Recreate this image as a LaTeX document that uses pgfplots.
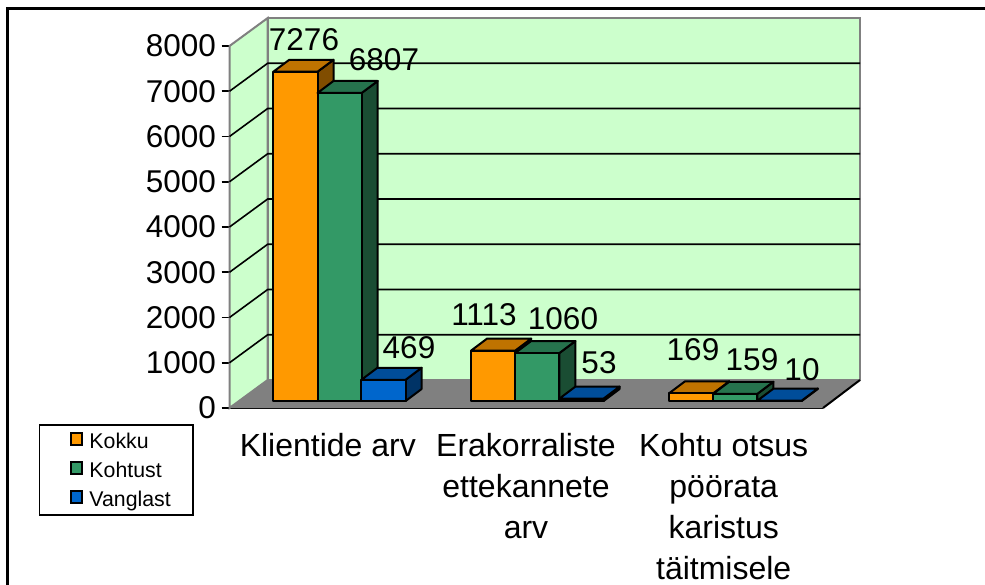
\documentclass[border=0pt]{standalone}
\usepackage{fontspec}
\setmainfont{Liberation Sans}
\usepackage{pgfplots}
\pgfplotsset{compat=1.18}
\definecolor{wallc}{HTML}{CCFFCC}
\definecolor{floorc}{HTML}{808080}
\definecolor{orfront}{HTML}{FF9900}
\definecolor{ortop}{HTML}{BF7300}
\definecolor{orside}{HTML}{804D00}
\definecolor{grfront}{HTML}{339966}
\definecolor{grtop}{HTML}{26734D}
\definecolor{grside}{HTML}{1A4D33}
\definecolor{blfront}{HTML}{0066CC}
\definecolor{bltop}{HTML}{004D99}
\definecolor{blside}{HTML}{003366}

% x is in pixels, y in data units; 1 px = 22.1 units
% bar: left edge, value, colour prefix. Floor offset 155, depth 16 px by 265 units
\newcommand\threedbar[3]{%
  \pgfmathsetmacro\xa{#1}%
  \pgfmathsetmacro\xb{#1+44.2}%
  \pgfmathsetmacro\xc{#1+44.2+16}%
  \pgfmathsetmacro\xd{#1+16}%
  \pgfmathsetmacro\yb{155}%
  \pgfmathsetmacro\yt{#2+155}%
  \pgfmathsetmacro\ybb{155+265}%
  \pgfmathsetmacro\ytb{#2+155+265}%
  \edef\doit{%
    \noexpand\addplot[forget plot,draw=black,line width=2pt,line join=round,fill=#3side] coordinates {(\xb,\yb) (\xc,\ybb) (\xc,\ytb) (\xb,\yt)} -- cycle;
    \noexpand\addplot[forget plot,draw=black,line width=2pt,line join=round,fill=#3top] coordinates {(\xa,\yt) (\xb,\yt) (\xc,\ytb) (\xd,\ytb)} -- cycle;
    \noexpand\addplot[forget plot,draw=black,line width=2pt,line join=round,fill=#3front] coordinates {(\xa,\yb) (\xb,\yb) (\xb,\yt) (\xa,\yt)} -- cycle;
  }\doit
}
\pgfplotsset{
  gridline/.style={forget plot,black,line width=1.6pt,no marks},
  swatch/.style={legend image code/.code={%
    \path[draw=none,fill=none] (-10pt,3.5pt) rectangle (18pt,15.5pt);
    \draw[draw=black,line width=2pt,fill=#1] (0pt,-1pt) rectangle (10.5pt,11pt);}}
}

\begin{document}
\begin{tikzpicture}
\path[use as bounding box] (0,0) rectangle (985pt,-585pt);
\draw[black,line width=2.2pt] (7.5pt,-590pt) -- (7.5pt,-8.5pt) -- (990pt,-8.5pt);
\begin{axis}[
  at={(229.5pt,-408pt)},anchor=south west,scale only axis,
  width=593.5pt,height=362pt,
  xmin=229.5,xmax=823,ymin=0,ymax=8000,clip=false,
  axis x line*=bottom,axis y line*=left,
  axis line style={black,line width=2pt,-},
  xtick={327.8,526,723.7},
  xticklabels={Klientide arv,Erakorraliste\\ettekannete\\arv,Kohtu otsus\\pöörata\\karistus\\täitmisele},
  x tick style={draw=none},
  extra x ticks={229.5,427.2,625,823},
  extra x tick labels={},
  extra x tick style={tick style={black,line width=1.6pt},major tick length=16pt,xticklabel=\empty,tick align=outside},
  x tick label style={font=\fontsize{32}{41}\selectfont,align=center,anchor=north,yshift=-13.5pt},
  ytick={0,1000,...,8000},
  y tick label style={font=\fontsize{31.5}{34}\selectfont,xshift=-2pt},
  y tick style={black,line width=1.6pt},
  tick align=outside,major tick length=8pt,
  /pgf/number format/assume math mode=true,
  /pgf/number format/1000 sep={},
  legend style={at={(38.7pt-229.5pt,-16pt)},anchor=north west,draw=black,line width=1.6pt,fill=white,
    font=\fontsize{21.3}{24}\selectfont,inner xsep=22pt,inner ysep=3.2pt,
    /tikz/every even column/.append style={column sep=0pt},
    row sep=3.7pt,nodes={inner sep=0pt,text height=15pt,text depth=5pt}},
  legend cell align=left,
]
% back wall and side wall
\addplot[forget plot,draw=floorc,line width=2pt,fill=wallc] coordinates {(267.7,8619) (860,8619) (860,619) (267.7,619)} -- cycle;
\addplot[forget plot,draw=floorc,line width=2pt,fill=wallc] coordinates {(229.5,0) (267.7,619) (267.7,8619) (229.5,8000)} -- cycle;
% floor
\addplot[forget plot,draw=none,fill=floorc] coordinates {(229.5,0) (267.7,619) (860,619) (823,0)} -- cycle;
% grid on both walls
\addplot[gridline] coordinates {(229.5,1000) (267.7,1619) (860,1619)};
\addplot[gridline] coordinates {(229.5,2000) (267.7,2619) (860,2619)};
\addplot[gridline] coordinates {(229.5,3000) (267.7,3619) (860,3619)};
\addplot[gridline] coordinates {(229.5,4000) (267.7,4619) (860,4619)};
\addplot[gridline] coordinates {(229.5,5000) (267.7,5619) (860,5619)};
\addplot[gridline] coordinates {(229.5,6000) (267.7,6619) (860,6619)};
\addplot[gridline] coordinates {(229.5,7000) (267.7,7619) (860,7619)};
\addplot[forget plot,black,line width=2pt] coordinates {(823,0) (860,619)};
% bars, back to front in each group
\threedbar{273.3}{7276}{or}
\threedbar{317.5}{6807}{gr}
\threedbar{361.4}{469}{bl}
\threedbar{471}{1113}{or}
\threedbar{515.2}{1060}{gr}
\threedbar{559.4}{53}{bl}
\threedbar{669}{169}{or}
\threedbar{713.2}{159}{gr}
\threedbar{757.6}{10}{bl}
% legend only
\addlegendimage{swatch=orfront}\addlegendentry{Kokku}
\addlegendimage{swatch=grfront}\addlegendentry{Kohtust}
\addlegendimage{swatch=blfront}\addlegendentry{Vanglast}
\end{axis}
\tikzset{every node/.style={font=\fontsize{31.5}{34}\selectfont,inner sep=0pt}}
\node at (304pt,-40pt) {7276};
\node at (384pt,-60pt) {6807};
\node at (409pt,-348pt) {469};
\node at (484pt,-315pt) {1113};
\node at (563pt,-319pt) {1060};
\node at (599pt,-363pt) {53};
\node at (693pt,-350pt) {169};
\node at (752pt,-360pt) {159};
\node at (802pt,-370pt) {10};
\end{tikzpicture}
\end{document}
